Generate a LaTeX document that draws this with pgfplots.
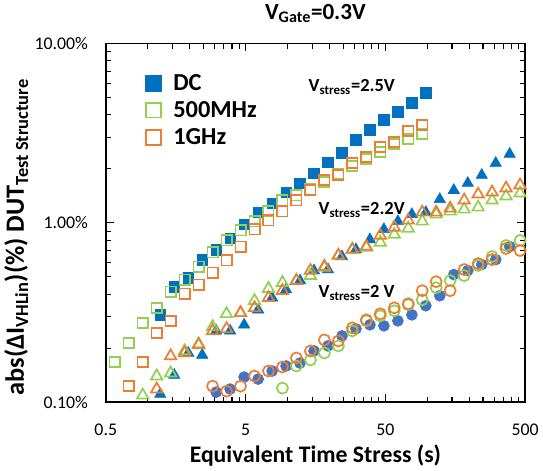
\documentclass[border=0pt]{standalone}
\usepackage{fontspec}
\setmainfont{Carlito}
\usepackage{pgfplots}
\pgfplotsset{compat=1.18}
\definecolor{dcblue}{HTML}{0070C0}
\definecolor{cblue}{HTML}{4472C4}
\definecolor{mgreen}{HTML}{92D050}
\definecolor{gorange}{HTML}{ED7D31}
\begin{document}
\begin{tikzpicture}
\begin{axis}[
  scale only axis, width=318pt, height=272pt,
  xmode=log, ymode=log,
  xmin=0.5, xmax=500, ymin=0.1, ymax=10,
  xtick={0.5,5,50,500}, xticklabels={0.5,5,50,500},
  minor xtick={1,1.5,2,2.5,3,3.5,4,4.5,10,15,20,25,30,35,40,45,100,150,200,250,300,350,400,450},
  ytick={0.1,1,10}, yticklabels={0.10\%,1.00\%,10.00\%},
  minor ytick={0.2,0.3,0.4,0.5,0.6,0.7,0.8,0.9,2,3,4,5,6,7,8,9},
  tick label style={font=\fontsize{13.5}{16}\selectfont},
  yticklabel style={xshift=-10pt},
  xticklabel style={yshift=-13pt},
  major tick length=6pt, minor tick length=4pt,
  tick style={black, line width=0.8pt},
  axis line style={line width=1.2pt},
  title={\fontsize{17.5}{21}\selectfont\bfseries V\textsubscript{Gate}=0.3V},
  title style={yshift=6pt},
  xlabel={\fontsize{18}{21}\selectfont\bfseries Equivalent Time Stress (s)},
  ylabel={\fontsize{20}{23}\selectfont\bfseries abs(ΔI\textsubscript{VHLin})(\%) DUT\textsubscript{Test Structure}},
  xlabel style={yshift=0pt},
  ylabel style={at={(ticklabel cs:0.46)}, yshift=-2pt},
  legend cell align=left,
  legend style={draw=none, fill=none, at={(0.085,0.93)}, anchor=north west,
    font=\fontsize{18.5}{21}\selectfont\bfseries, row sep=3pt,
    /tikz/every odd column/.append style={column sep=7pt}},
  every axis plot/.append style={only marks},
]
% 2.5 V squares
\addplot[forget plot, mark=square*, mark size=4pt, draw=dcblue, fill=dcblue] coordinates {
(1.227,0.307)(1.545,0.441)(1.945,0.495)(2.449,0.624)(3.083,0.710)(3.881,0.819)(4.886,0.981)(6.151,1.145)(7.744,1.286)(9.749,1.482)(12.27,1.665)(15.45,1.894)(19.45,2.183)(24.49,2.452)(30.83,2.899)(38.81,3.298)(48.86,3.751)(61.51,4.159)(77.44,4.671)(97.49,5.315)};
\addplot[forget plot, mark=square, mark size=3.9pt, mark options={line width=1.3pt}, draw=mgreen] coordinates {
(0.580,0.1675)(0.730,0.214)(0.919,0.277)(1.157,0.336)(1.456,0.413)(1.833,0.483)(2.308,0.571)(2.905,0.684)(3.657,0.798)(4.604,0.908)(5.796,1.020)(7.297,1.160)(9.186,1.337)(11.56,1.426)(14.56,1.540)(18.33,1.686)(23.08,1.870)(29.05,2.073)(36.57,2.269)(46.04,2.483)(57.96,2.754)(72.97,2.937)(91.86,3.133)};
\addplot[forget plot, mark=square, mark size=3.9pt, mark options={line width=1.3pt}, draw=gorange] coordinates {
(0.730,0.1229)(0.919,0.1675)(1.157,0.2436)(1.456,0.2843)(1.833,0.4027)(2.308,0.4525)(2.905,0.528)(3.657,0.617)(4.604,0.738)(5.796,0.920)(7.297,1.033)(9.186,1.160)(11.56,1.337)(14.56,1.521)(18.33,1.730)(23.08,1.846)(29.05,2.154)(36.57,2.328)(46.04,2.649)(57.96,2.825)(72.97,3.255)(91.86,3.517)};
% 2.2 V triangles
\addplot[forget plot, mark=triangle*, mark size=5pt, draw=dcblue, fill=dcblue] coordinates {
(1.227,0.1109)(1.545,0.1417)(1.945,0.1882)(2.449,0.1834)(3.083,0.2499)(3.881,0.2499)(4.886,0.2701)(6.151,0.3276)(7.744,0.3824)(9.749,0.4242)(12.27,0.4764)(15.45,0.542)(19.45,0.549)(24.49,0.649)(30.83,0.710)(38.81,0.808)(48.86,0.920)(61.51,1.020)(77.44,1.116)(97.49,1.145)(122.7,1.354)(154.5,1.521)(194.5,1.665)(244.9,1.846)(308.3,2.154)(388.1,2.420)};
\addplot[forget plot, mark=triangle, mark size=5pt, mark options={line width=1.3pt}, draw=mgreen] coordinates {
(0.919,0.1094)(1.157,0.1398)(1.456,0.1453)(1.833,0.1931)(2.308,0.2113)(2.905,0.2632)(3.657,0.311)(4.604,0.315)(5.796,0.368)(7.297,0.4297)(9.186,0.4642)(11.56,0.4764)(14.56,0.508)(18.33,0.5635)(23.08,0.658)(29.05,0.710)(36.57,0.729)(46.04,0.778)(57.96,0.862)(72.97,0.932)(91.86,1.020)(115.6,1.116)(145.6,1.160)(183.3,1.190)(230.8,1.221)(290.5,1.337)(365.7,1.408)(460.4,1.463)};
\addplot[forget plot, mark=triangle, mark size=5pt, mark options={line width=1.3pt}, draw=gorange] coordinates {
(1.157,0.1183)(1.456,0.1810)(1.833,0.1882)(2.308,0.2086)(2.905,0.2499)(3.657,0.2565)(4.604,0.315)(5.796,0.336)(7.297,0.3824)(9.186,0.4187)(11.56,0.4764)(14.56,0.542)(18.33,0.571)(23.08,0.658)(29.05,0.710)(36.57,0.738)(46.04,0.851)(57.96,0.944)(72.97,1.033)(91.86,1.145)(115.6,1.145)(145.6,1.205)(183.3,1.337)(230.8,1.444)(290.5,1.482)(365.7,1.561)(460.4,1.623)};
% 2 V circles
\addplot[forget plot, mark=*, mark size=4.2pt, draw=cblue, fill=cblue] coordinates {
(3.083,0.1138)(3.881,0.1183)(4.886,0.1380)(6.151,0.1345)(7.744,0.1492)(9.749,0.1591)(12.27,0.1653)(15.45,0.1931)(19.45,0.2060)(24.49,0.2342)(30.83,0.2565)(38.81,0.2701)(48.86,0.2666)(61.51,0.2843)(77.44,0.307)(97.49,0.345)(122.7,0.3925)(154.5,0.5147)(194.5,0.542)(244.9,0.5855)(308.3,0.624)(388.1,0.738)};
\addplot[forget plot, mark=o, mark size=4.2pt, mark options={line width=1.3pt}, draw=mgreen] coordinates {
(9.186,0.1198)(11.56,0.1591)(14.56,0.1719)(18.33,0.1882)(23.08,0.2060)(29.05,0.2499)(36.57,0.2843)(46.04,0.3031)(57.96,0.3234)(72.97,0.3495)(91.86,0.3728)(115.6,0.4351)(145.6,0.4764)(183.3,0.508)(230.8,0.578)(290.5,0.649)(365.7,0.748)(460.4,0.798)};
\addplot[forget plot, mark=o, mark size=4.2pt, mark options={line width=1.3pt}, draw=gorange] coordinates {
(2.905,0.1229)(3.657,0.1152)(4.604,0.1229)(5.796,0.1398)(7.297,0.1492)(9.186,0.1571)(11.56,0.1764)(14.56,0.1931)(18.33,0.2225)(23.08,0.2196)(29.05,0.2598)(36.57,0.2880)(46.04,0.311)(57.96,0.336)(72.97,0.354)(91.86,0.4187)(115.6,0.470)(145.6,0.4187)(183.3,0.549)(230.8,0.593)(290.5,0.624)(365.7,0.720)(460.4,0.701)};
% legend
\addlegendimage{only marks, mark=square*, mark size=6pt, draw=dcblue, fill=dcblue}
\addlegendentry{DC}
\addlegendimage{only marks, mark=square, mark size=5.5pt, mark options={line width=1.3pt}, draw=mgreen}
\addlegendentry{500MHz}
\addlegendimage{only marks, mark=square, mark size=5.5pt, mark options={line width=1.3pt}, draw=gorange}
\addlegendentry{1GHz}
% annotations
\node[anchor=base west, inner sep=0pt, font=\fontsize{14}{17}\selectfont\bfseries] at (axis cs:14.1,5.38) {V\textsubscript{stress}=2.5V};
\node[anchor=base west, inner sep=0pt, font=\fontsize{14}{17}\selectfont\bfseries] at (axis cs:16.6,1.116) {V\textsubscript{stress}=2.2V};
\node[anchor=base west, inner sep=0pt, font=\fontsize{14}{17}\selectfont\bfseries] at (axis cs:16.6,0.382) {V\textsubscript{stress}=2 V};
\end{axis}
\end{tikzpicture}
\end{document}
